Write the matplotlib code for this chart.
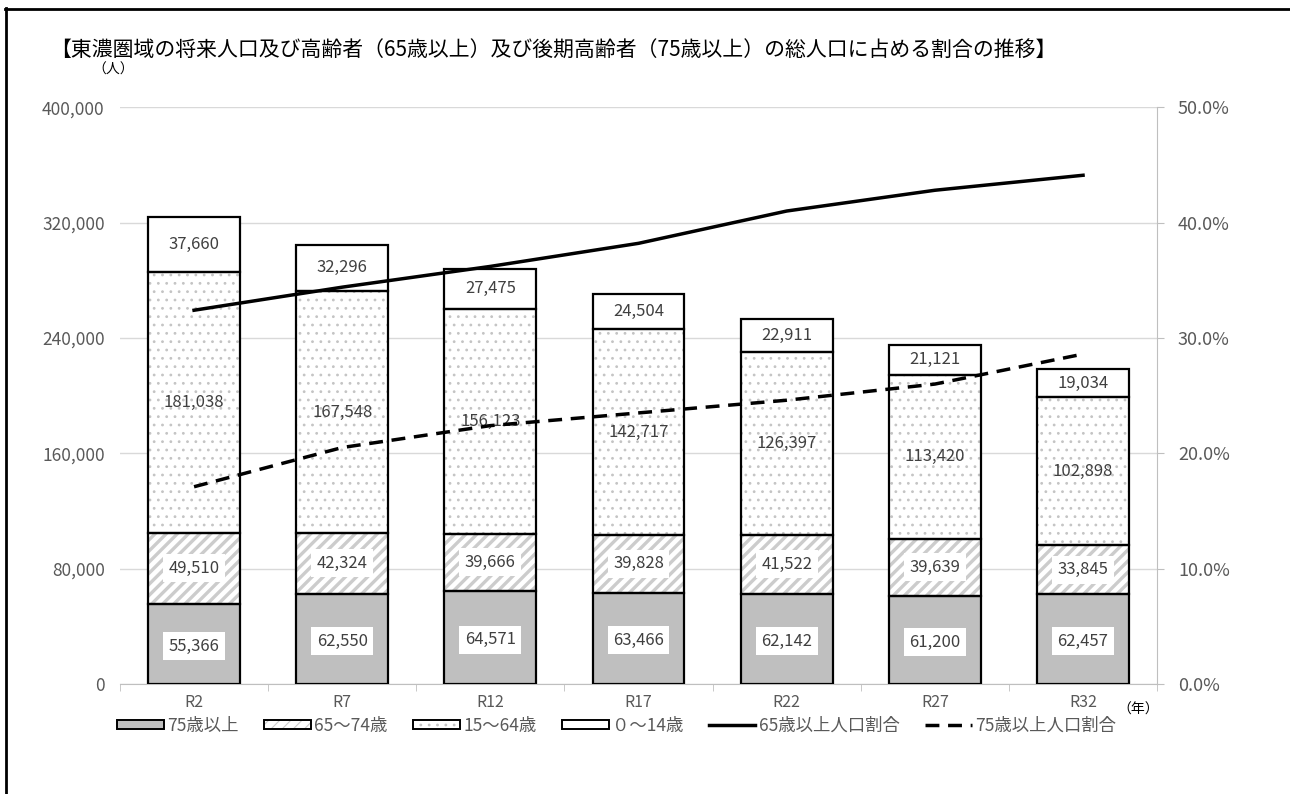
import numpy as np
import matplotlib.pyplot as plt
from matplotlib.patches import Patch
from matplotlib.lines import Line2D

plt.rcParams['font.family'] = ['Noto Sans CJK JP', 'DejaVu Sans']

# data
years = ["R2", "R7", "R12", "R17", "R22", "R27", "R32"]
age75 = [55366, 62550, 64571, 63466, 62142, 61200, 62457]
age65_74 = [49510, 42324, 39666, 39828, 41522, 39639, 33845]
age15_64 = [181038, 167548, 156123, 142717, 126397, 113420, 102898]
age0_14 = [37660, 32296, 27475, 24504, 22911, 21121, 19034]
ratio65 = [32.4, 34.4, 36.2, 38.2, 41.0, 42.8, 44.1]
ratio75 = [17.1, 20.5, 22.4, 23.5, 24.6, 26.0, 28.6]

grey_txt = "#595959"
stripe_col = "#cccccc"
dot_col = "#c4c4c4"

fig = plt.figure(figsize=(12.9, 7.94), dpi=100)
ax = fig.add_axes([0.093, 0.1385, 0.804, 0.7265])
ax2 = ax.twinx()

x = np.arange(len(years))
w = 0.62
a = np.array(age75)
b = np.array(age65_74)
c = np.array(age15_64)
d = np.array(age0_14)

# fills (hatch drawn in light grey, outline drawn separately in black)
plt.rcParams['hatch.linewidth'] = 2.4
ax.bar(x, a, w, color="#bfbfbf", edgecolor="none", zorder=2)
ax.bar(x, b, w, bottom=a, color="white", edgecolor=stripe_col, hatch="///", linewidth=0, zorder=2)
stripe_leg = Patch(facecolor="white", edgecolor=stripe_col, hatch="///", linewidth=0)
plt.rcParams['hatch.linewidth'] = 0.8
ax.bar(x, c, w, bottom=a + b, color="white", edgecolor=dot_col, hatch="..", linewidth=0, zorder=2)
dot_leg = Patch(facecolor="white", edgecolor=dot_col, hatch="..", linewidth=0)
ax.bar(x, d, w, bottom=a + b + c, color="white", edgecolor="none", zorder=2)
for bottom, vals in [(0, a), (a, b), (a + b, c), (a + b + c, d)]:
    ax.bar(x, vals, w, bottom=bottom, fill=False, edgecolor="black", linewidth=1.6, zorder=3)

# value labels
box = dict(facecolor="white", edgecolor="none", pad=4)
for i in range(len(years)):
    ax.text(x[i], a[i] / 2 - 1500, f"{a[i]:,}", ha="center", va="center", fontsize=12,
            color="#404040", bbox=box, zorder=4)
    ax.text(x[i], a[i] + b[i] / 2, f"{b[i]:,}", ha="center", va="center", fontsize=12,
            color="#404040", bbox=box, zorder=4)
    ax.text(x[i], a[i] + b[i] + c[i] / 2, f"{c[i]:,}", ha="center", va="center", fontsize=12,
            color="#404040", zorder=4)
    ax.text(x[i], a[i] + b[i] + c[i] + d[i] / 2, f"{d[i]:,}", ha="center", va="center", fontsize=12,
            color="#404040", zorder=4)

ax.set_xlim(-0.5, len(years) - 0.5)
ax.set_ylim(0, 400000)
ax.set_yticks(np.arange(0, 400001, 80000))
ax.set_yticklabels([f"{v:,}" for v in range(0, 400001, 80000)], fontsize=12.5, color=grey_txt)
ax.tick_params(axis="y", length=0, pad=11)
ax.set_xticks(x)
ax.set_xticklabels(years, fontsize=11.5, color=grey_txt)
ax.set_xticks(np.arange(-0.5, len(years)), minor=True)
ax.tick_params(axis="x", which="major", length=0, pad=7)
ax.tick_params(axis="x", which="minor", length=5, color="#bfbfbf")
ax.grid(axis="y", color="#d9d9d9", linewidth=1)
ax.set_axisbelow(True)
for s in ["left", "top", "right"]:
    ax.spines[s].set_visible(False)
ax.spines["bottom"].set_color("#bfbfbf")

# ratio lines
ax2.plot(x, ratio65, color="black", linewidth=2.5, zorder=5)
ax2.plot(x, ratio75, color="black", linewidth=2.5, linestyle=(0, (4, 2.5)), zorder=5)
ax2.set_ylim(0, 50)
ax2.set_yticks(np.arange(0, 51, 10))
ax2.set_yticklabels([f"{v:.1f}%" for v in range(0, 51, 10)], fontsize=13, color=grey_txt)
ax2.tick_params(axis="y", length=5, color="#bfbfbf", pad=10)
for s in ["left", "top", "bottom"]:
    ax2.spines[s].set_visible(False)
ax2.spines["right"].set_color("#bfbfbf")

# texts
fig.text(0.039, 0.936, "【東濃圏域の将来人口及び高齢者（65歳以上）及び後期高齢者（75歳以上）の総人口に占める割合の推移】",
         fontsize=15, va="center", ha="left", color="black")
fig.text(0.0875, 0.912, "（人）", fontsize=10, va="center", ha="center", color="black")
fig.text(0.882, 0.106, "（年）", fontsize=10, va="center", ha="center", color="black")

# legend
outline = dict(facecolor="none", edgecolor="black", linewidth=1.4)
handles = [
    Patch(facecolor="#bfbfbf", edgecolor="black", linewidth=1.4),
    (stripe_leg, Patch(**outline)),
    (dot_leg, Patch(**outline)),
    Patch(facecolor="white", edgecolor="black", linewidth=1.4),
    Line2D([], [], color="black", linewidth=2.5),
    Line2D([], [], color="black", linewidth=2.5, linestyle=(0, (4, 2.5))),
]
labels = ["75歳以上", "65～74歳", "15～64歳", "０～14歳", "65歳以上人口割合", "75歳以上人口割合"]
fig.legend(handles, labels, loc="center", bbox_to_anchor=(0.478, 0.086), ncol=6, frameon=False,
           fontsize=12.5, handlelength=2.7, handleheight=0.45, handletextpad=0.2, columnspacing=1.45,
           labelcolor=grey_txt)

# outer frame (left and top only visible)
fig.add_artist(Line2D([0.005, 0.005], [0, 0.99], transform=fig.transFigure, color="black", linewidth=2))
fig.add_artist(Line2D([0.004, 1.0], [0.9885, 0.9885], transform=fig.transFigure, color="black", linewidth=2))

fig.savefig("out.png", dpi=100)
